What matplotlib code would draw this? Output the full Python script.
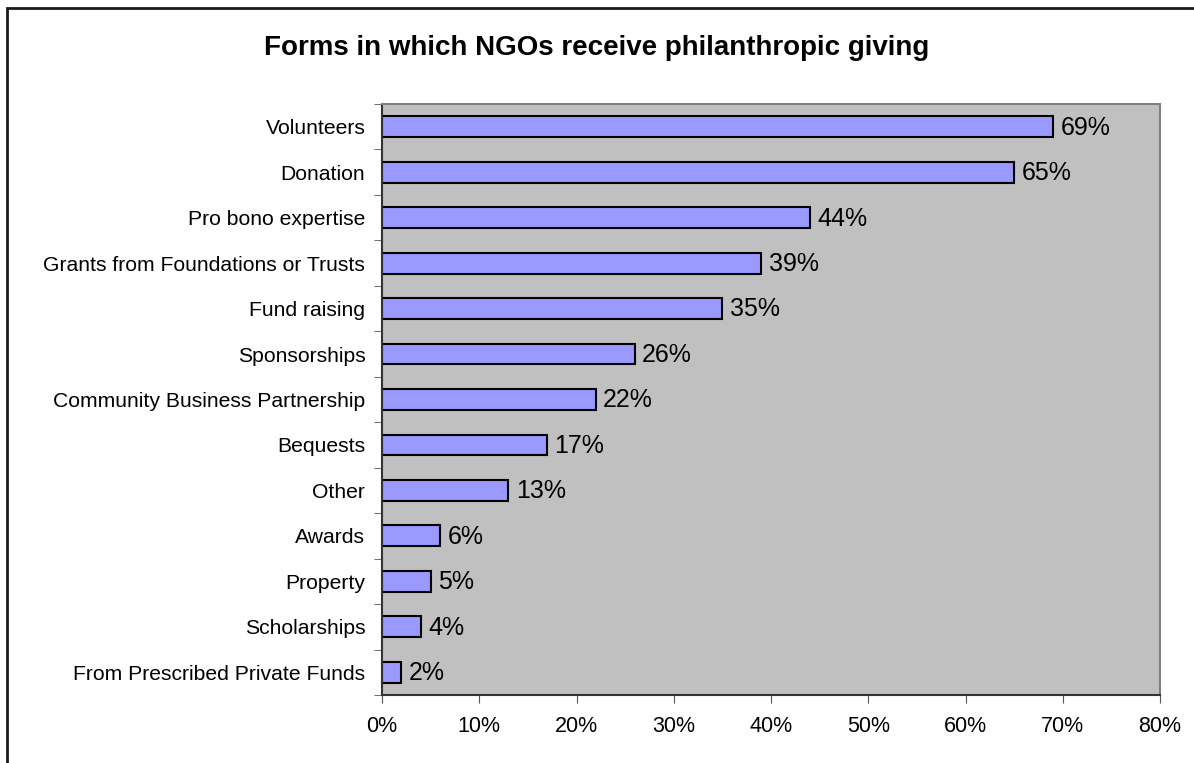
import numpy as np
import matplotlib.pyplot as plt
from matplotlib.patches import Rectangle
from matplotlib.ticker import FuncFormatter

plt.rcParams['font.family'] = ['Liberation Sans', 'DejaVu Sans']

categories = ['Volunteers', 'Donation', 'Pro bono expertise',
              'Grants from Foundations or Trusts', 'Fund raising',
              'Sponsorships', 'Community Business Partnership', 'Bequests',
              'Other', 'Awards', 'Property', 'Scholarships',
              'From Prescribed Private Funds']
values = [69, 65, 44, 39, 35, 26, 22, 17, 13, 6, 5, 4, 2]
xticks = [0, 10, 20, 30, 40, 50, 60, 70, 80]

W, H = 1194, 763
fig = plt.figure(figsize=(W / 100, H / 100), dpi=100)

# outer chart frame (runs off the right/bottom edge)
fig.patches.append(Rectangle((7 / W, -0.05), 1.2, 1 - 8 / H + 0.05,
                             transform=fig.transFigure, fill=False,
                             edgecolor='#1a1a1a', linewidth=2))

ax = fig.add_axes([382 / W, 1 - 695 / H, (1160 - 382) / W, (695 - 104) / H])
ax.set_facecolor('#c0c0c0')

y = np.arange(len(categories))
ax.barh(y, values, height=0.46, color='#9999ff', edgecolor='black',
        linewidth=1.5)
for yi, v in zip(y, values):
    ax.text(v + 0.75, yi + 0.02, f'{v}%', va='center', ha='left', fontsize=18)

ax.set_ylim(len(categories) - 0.5, -0.5)
ax.set_xlim(0, 80)
ax.set_xticks(xticks)
ax.xaxis.set_major_formatter(FuncFormatter(lambda v, p: f'{v:.0f}%'))
ax.set_yticks(y)
ax.set_yticklabels(categories)
ax.set_yticks(np.arange(len(categories) + 1) - 0.5, minor=True)

ax.tick_params(axis='y', which='major', length=0, pad=12, labelsize=15.2)
ax.tick_params(axis='y', which='minor', length=6, color='#555555')
ax.tick_params(axis='x', length=6, color='#555555', labelsize=15.5, pad=9)

for s in ['left', 'bottom']:
    ax.spines[s].set_color('#333333')
    ax.spines[s].set_linewidth(1.5)
for s in ['top', 'right']:
    ax.spines[s].set_color('#808080')
    ax.spines[s].set_linewidth(1.5)

fig.text(597 / W, 1 - 48 / H, 'Forms in which NGOs receive philanthropic giving',
         ha='center', va='center', fontsize=20, fontweight='bold')

fig.savefig('out.png', dpi=100)
